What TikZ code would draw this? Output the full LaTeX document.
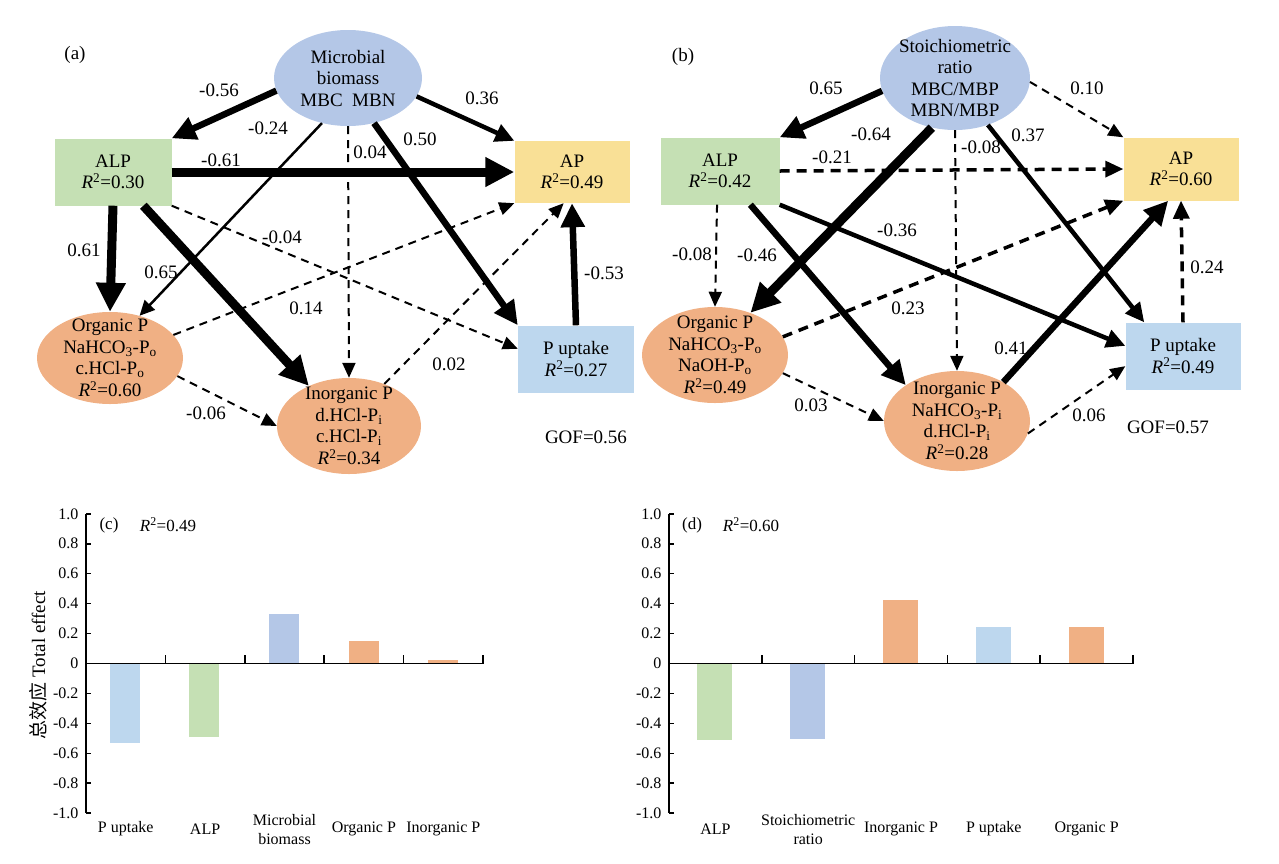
\documentclass[tikz,border=0pt]{standalone}
\usepackage{fontspec}
\setmainfont{Liberation Serif}
\newfontfamily\cjk{Noto Sans CJK SC}
\usetikzlibrary{shapes.geometric,arrows.meta}
\definecolor{bioblue}{HTML}{B4C7E7}
\definecolor{alpgreen}{HTML}{C5E0B4}
\definecolor{apyellow}{HTML}{F9E096}
\definecolor{porange}{HTML}{F0B084}
\definecolor{uplblue}{HTML}{BDD7EE}
\newcommand{\rsq}[1]{\textit{R}\textsuperscript{2}=#1}

\begin{document}
\begin{tikzpicture}[x=1pt,y=-1pt,font=\fontsize{19}{21.5}\selectfont,
  boxnode/.style={rectangle,inner sep=0pt,align=center},
  ellnode/.style={ellipse,inner sep=-25pt,align=center},
  pathXL/.style={line width=9pt,-{Triangle[length=29pt,width=28pt]}},
  pathL/.style={line width=6.5pt,-{Triangle[length=24pt,width=23pt]}},
  pathM/.style={line width=4.5pt,-{Triangle[length=19pt,width=18pt]}},
  pathS/.style={line width=2.5pt,-{Triangle[length=15pt,width=14pt]}},
  pathD/.style={line width=2pt,dash pattern=on 8pt off 6pt,-{Triangle[length=15pt,width=13pt]}},
  pathDL/.style={line width=3.5pt,dash pattern=on 10pt off 7pt,-{Triangle[length=18pt,width=16pt]}},
  axisline/.style={line width=1.6pt}]
\useasboundingbox (0,0) rectangle (1279,863);

% (a)
\node (tagA) at (75,55) {(a)};
\node[ellnode,fill=bioblue,minimum width=148,minimum height=96] (micA) at (348,78) {Microbial\\biomass\\MBC~~MBN};
\node[boxnode,fill=alpgreen,minimum width=117,minimum height=67] (alpA) at (113,172) {ALP\\\rsq{0.30}};
\node[boxnode,fill=apyellow,minimum width=115,minimum height=62] (apA) at (572,172) {AP\\\rsq{0.49}};
\node[ellnode,fill=porange,minimum width=146,minimum height=92] (orgA) at (110,358) {Organic P\\NaHCO\textsubscript{3}-P\textsubscript{o}\\c.HCl-P\textsubscript{o}\\\rsq{0.60}};
\node[ellnode,fill=porange,minimum width=144,minimum height=96] (inoA) at (349,426) {Inorganic P\\d.HCl-P\textsubscript{i}\\c.HCl-P\textsubscript{i}\\\rsq{0.34}};
\node[boxnode,fill=uplblue,minimum width=116,minimum height=67] (upA) at (576,359) {P uptake\\\rsq{0.27}};
\node (gofA) at (586,437) {GOF=0.56};

\draw[pathL] (micA.190) -- (alpA.north east);
\draw[pathM] (micA.-15) -- (apA.north west);
\draw[pathS] (micA.240) -- (orgA.55);
\draw[pathD] (micA.south) -- (inoA.north);
\draw[pathL] (micA.-60) -- (upA.north west);
\draw[pathXL] (alpA.east) -- (apA.west);
\draw[pathXL] (alpA.south) -- (orgA.north);
\draw[pathXL] (alpA.-48) -- (inoA.135);
\draw[pathD] (alpA.south east) -- (upA.170);
\draw[pathD] (orgA.20) -- (apA.south west);
\draw[pathD] (orgA.-15) -- (inoA.west);
\draw[pathD] (inoA.50) -- (apA.-105);
\draw[pathL] (upA.north) -- (apA.south);

\node (la1) at (219,90) {-0.56};
\node (la2) at (482,98) {0.36};
\node (la3) at (268,128) {-0.24};
\node (la4) at (370,152) {0.04};
\node (la5) at (420,139) {0.50};
\node (la6) at (221,160) {-0.61};
\node (la7) at (84,250) {0.61};
\node (la8) at (161,272) {0.65};
\node (la9) at (282,237) {-0.04};
\node (la10) at (306,308) {0.14};
\node (la11) at (206,413) {-0.06};
\node (la12) at (449,364) {0.02};
\node (la13) at (604,273) {-0.53};

% (b)
\node (tagB) at (683,57) {(b)};
\node[ellnode,fill=bioblue,minimum width=150,minimum height=104] (staB) at (955,78) {Stoichiometric\\ratio\\MBC/MBP\\MBN/MBP};
\node[boxnode,fill=alpgreen,minimum width=119,minimum height=67] (alpB) at (720,171) {ALP\\\rsq{0.42}};
\node[boxnode,fill=apyellow,minimum width=115,minimum height=63] (apB) at (1181,169) {AP\\\rsq{0.60}};
\node[ellnode,fill=porange,minimum width=146,minimum height=96] (orgB) at (715,355) {Organic P\\NaHCO\textsubscript{3}-P\textsubscript{o}\\NaOH-P\textsubscript{o}\\\rsq{0.49}};
\node[ellnode,fill=porange,minimum width=146,minimum height=100] (inoB) at (957,421) {Inorganic P\\NaHCO\textsubscript{3}-P\textsubscript{i}\\d.HCl-P\textsubscript{i}\\\rsq{0.28}};
\node[boxnode,fill=uplblue,minimum width=115,minimum height=67] (upB) at (1183,356) {P uptake\\\rsq{0.49}};
\node (gofB) at (1168,427) {GOF=0.57};

\draw[pathL] (staB.190) -- (alpB.north east);
\draw[pathD] (staB.-3) -- (apB.north west);
\draw[pathXL] (staB.245) -- (orgB.50);
\draw[pathD] (staB.south) -- (inoB.north);
\draw[pathM] (staB.-55) -- (upB.139);
\draw[pathDL] (alpB.east) -- (apB.west);
\draw[pathD] (alpB.-95) -- (orgB.north);
\draw[pathL] (alpB.-48) -- (inoB.145);
\draw[pathM] (alpB.south east) -- (upB.170);
\draw[pathDL] (orgB.15) -- (apB.south west);
\draw[pathD] (orgB.-15) -- (inoB.west);
\draw[pathL] (inoB.40) -- (apB.-112);
\draw[pathD] (inoB.-10) -- (upB.190);
\draw[pathDL] (upB.north) -- (apB.south);

\node (lb1) at (826,88) {0.65};
\node (lb2) at (1087,88) {0.10};
\node (lb3) at (871,134) {-0.64};
\node (lb4) at (981,147) {-0.08};
\node (lb5) at (1028,135) {0.37};
\node (lb6) at (832,157) {-0.21};
\node (lb7) at (692,254) {-0.08};
\node (lb8) at (757,255) {-0.46};
\node (lb9) at (897,230) {-0.36};
\node (lb10) at (908,308) {0.23};
\node (lb11) at (1011,348) {0.41};
\node (lb12) at (811,405) {0.03};
\node (lb13) at (1089,415) {0.06};
\node (lb14) at (1207,267) {0.24};

% (c)
\begin{scope}[shift={(86,663.5)},y=149.7pt,font=\fontsize{16}{19}\selectfont]
\fill[uplblue] (24,0) rectangle (54,-0.53);
\fill[alpgreen] (103,0) rectangle (133,-0.49);
\fill[bioblue] (183,0) rectangle (213,0.33);
\fill[porange] (263,0) rectangle (293,0.15);
\fill[porange] (342,0) rectangle (372,0.025);
\draw[axisline] (0,1) -- (0,-1);
\draw[axisline] (0,0) -- (397,0);
\foreach \v/\t [count=\i] in {1/1.0,0.8/0.8,0.6/0.6,0.4/0.4,0.2/0.2,0/0,-0.2/-0.2,-0.4/-0.4,-0.6/-0.6,-0.8/-0.8,-1/-1.0}{
  \draw[axisline] (0,\v) -- (5,\v);
  \node[anchor=east] (tc\i) at (-4,\v) {\t};
}
\foreach \x in {79.4,158.8,238.2,317.6,397}
  \draw[axisline] (\x,0) -- (\x,0.055);
\node (cc1) at (39.7,-1.106) {P uptake};
\node (cc2) at (119.1,-1.106) {ALP};
\node[align=center] (cc3) at (198.5,-1.106) {Microbial\\biomass};
\node (cc4) at (277.9,-1.106) {Organic P};
\node (cc5) at (357.3,-1.106) {Inorganic P};
\end{scope}
\node[font=\fontsize{17}{19}\selectfont] (tagC) at (109,525) {(c)};
\node[font=\fontsize{17}{19}\selectfont] (rsqC) at (168,525) {\rsq{0.49}};
\node[rotate=90,font=\fontsize{19}{22}\selectfont] (ytitle) at (38,665) {{\cjk 总效应} Total effect};

% (d)
\begin{scope}[shift={(669,663.5)},y=149.7pt,font=\fontsize{16}{19}\selectfont]
\fill[alpgreen] (28,0) rectangle (63,-0.51);
\fill[bioblue] (121,0) rectangle (156,-0.505);
\fill[porange] (214,0) rectangle (249,0.425);
\fill[uplblue] (307,0) rectangle (342,0.245);
\fill[porange] (400,0) rectangle (435,0.245);
\draw[axisline] (0,1) -- (0,-1);
\draw[axisline] (0,0) -- (464,0);
\foreach \v/\t [count=\i] in {1/1.0,0.8/0.8,0.6/0.6,0.4/0.4,0.2/0.2,0/0,-0.2/-0.2,-0.4/-0.4,-0.6/-0.6,-0.8/-0.8,-1/-1.0}{
  \draw[axisline] (0,\v) -- (5,\v);
  \node[anchor=east] (td\i) at (-4,\v) {\t};
}
\foreach \x in {92.8,185.6,278.4,371.2,464}
  \draw[axisline] (\x,0) -- (\x,0.055);
\node (dc1) at (46.4,-1.106) {ALP};
\node[align=center] (dc2) at (139.2,-1.106) {Stoichiometric\\ratio};
\node (dc3) at (232,-1.106) {Inorganic P};
\node (dc4) at (324.8,-1.106) {P uptake};
\node (dc5) at (417.6,-1.106) {Organic P};
\end{scope}
\node[font=\fontsize{17}{19}\selectfont] (tagD) at (692,525) {(d)};
\node[font=\fontsize{17}{19}\selectfont] (rsqD) at (751,525) {\rsq{0.60}};
\end{tikzpicture}
\end{document}
